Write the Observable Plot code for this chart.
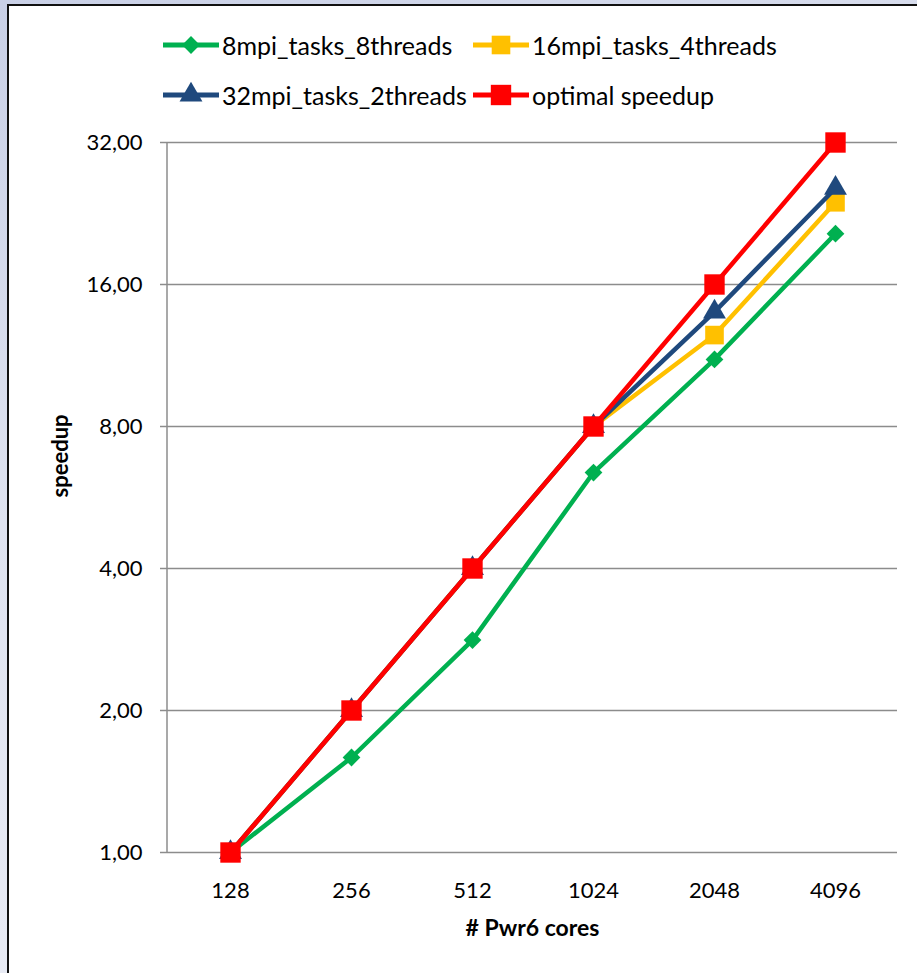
<!DOCTYPE html>
<html>
<head>
<meta charset="utf-8">
<script src="https://cdn.jsdelivr.net/npm/d3@7"></script>
<script src="https://cdn.jsdelivr.net/npm/@observablehq/plot@0.6"></script>
<style>
  html, body { margin: 0; padding: 0; }
  body {
    width: 917px; height: 973px; overflow: hidden;
    background: linear-gradient(160deg, #c9d0e6 0%, #dfe3f0 40%, #eef0f7 100%);
    font-family: Lato, "Open Sans", sans-serif;
  }
  #wrap { position: relative; width: 917px; height: 973px; }
  #frame {
    position: absolute; left: 7px; top: 4px; width: 930px; height: 990px;
    background: #fff; border-left: 2px solid #111; border-top: 2px solid #111;
  }
  #legend { position: absolute; left: 0; top: 0; width: 917px; height: 120px; }
  .item { position: absolute; display: flex; align-items: center; height: 30px; font-size: 25px; color: #000; white-space: nowrap; }
  .item svg { display: block; }
  #chart { position: absolute; left: 0; top: 120px; }
</style>
</head>
<body>
<div id="wrap">
  <div id="frame"></div>
  <div id="legend"></div>
  <div id="chart"></div>
</div>
<script>
// ---- data ----
const cores = ["128", "256", "512", "1024", "2048", "4096"];
const mpi8_threads8 = [1, 1.59, 2.82, 6.39, 11.1, 20.5];
const mpi16_threads4 = [1, 2, 4, 8, 12.5, 23.9];
const mpi32_threads2 = [1, 2, 4, 8, 14.0, 25.6];
const optimal = [1, 2, 4, 8, 16, 32];
const yTicks = [1, 2, 4, 8, 16, 32];
const seriesNames = ["8mpi_tasks_8threads", "16mpi_tasks_4threads", "32mpi_tasks_2threads", "optimal speedup"];

const series = [
  {name: seriesNames[0], values: mpi8_threads8, color: "#00b050", symbol: "diamond2", r: 8},
  {name: seriesNames[1], values: mpi16_threads4, color: "#ffc000", symbol: "square", r: 10.5},
  {name: seriesNames[2], values: mpi32_threads2, color: "#1f497d", symbol: "triangle", r: 8.5},
  {name: seriesNames[3], values: optimal, color: "#ff0000", symbol: "square", r: 11.5}
];
const rows = series.flatMap(s => s.values.map((v, i) => ({series: s.name, cores: cores[i], speedup: v})));

const font = "Lato, 'Open Sans', sans-serif";
const marks = [
  Plot.gridY({ticks: yTicks, stroke: "#8c8c8c", strokeOpacity: 1, strokeWidth: 1.5}),
  Plot.axisY({ticks: yTicks, tickSize: 7, tickPadding: 18, stroke: "#8c8c8c", strokeWidth: 1.5,
    tickFormat: d => d.toFixed(2).replace(".", ","), fontSize: 22, label: null}),
  Plot.axisX({tickSize: 0, tickPadding: 30, fontSize: 22, label: null})
];
for (const s of series) {
  const d = rows.filter(r => r.series === s.name);
  marks.push(Plot.line(d, {x: "cores", y: "speedup", stroke: s.color, strokeWidth: 4.5}));
  marks.push(Plot.dot(d, {x: "cores", y: "speedup", fill: s.color, stroke: "none", symbol: s.symbol, r: s.r}));
}
marks.push(Plot.text(["speedup"], {text: d => d, frameAnchor: "left", rotate: -90, dx: -107, fontSize: 22, fontWeight: "bold"}));
marks.push(Plot.text(["# Pwr6 cores"], {text: d => d, frameAnchor: "bottom", dy: 76, fontSize: 23, fontWeight: "bold", lineAnchor: "middle"}));

const plot = Plot.plot({
  width: 917,
  height: 853,
  marginLeft: 167,
  marginRight: 20,
  marginTop: 22,
  marginBottom: 121,
  style: {background: "transparent", fontFamily: font, color: "#000", overflow: "visible"},
  x: {type: "point", domain: cores, padding: 0.5},
  y: {type: "log", base: 2, domain: [1, 32]},
  marks
});
document.getElementById("chart").appendChild(plot);

// left axis line, from the scales
const xr = plot.scale("x").range, yr = plot.scale("y").range;
d3.select(plot).insert("line", "g:nth-of-type(3)")
  .attr("x1", xr[0]).attr("x2", xr[0]).attr("y1", yr[0]).attr("y2", yr[1])
  .attr("stroke", "#8c8c8c").attr("stroke-width", 1.5);

// legend
const legendPos = [[163, 30], [473, 30], [163, 80], [473, 80]];
const leg = d3.select("#legend");
series.forEach((s, i) => {
  const it = leg.append("div").attr("class", "item")
    .style("left", legendPos[i][0] + "px").style("top", legendPos[i][1] + "px");
  const sv = it.append("svg").attr("width", 56).attr("height", 30);
  sv.append("line").attr("x1", 0).attr("x2", 56).attr("y1", 15).attr("y2", 15)
    .attr("stroke", s.color).attr("stroke-width", 5);
  sv.append("path").attr("transform", "translate(28,15)").attr("fill", s.color)
    .attr("d", d3.symbol(
      s.symbol === "diamond2" ? d3.symbolDiamond2 : s.symbol === "triangle" ? d3.symbolTriangle : d3.symbolSquare,
      Math.PI * s.r * s.r)());
  it.append("span").style("margin-left", "3px").text(s.name);
});
</script>
</body>
</html>
